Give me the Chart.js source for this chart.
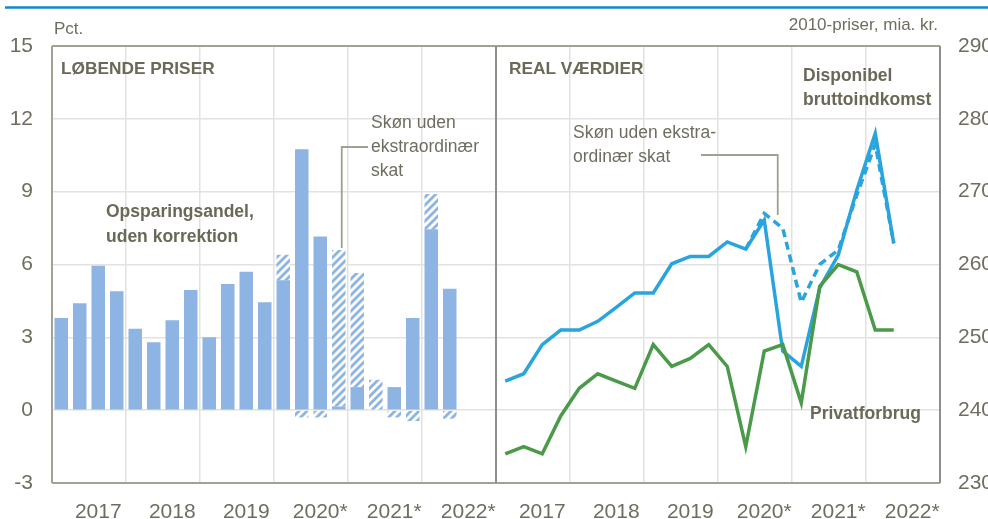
<!DOCTYPE html>
<html>
<head>
<meta charset="utf-8">
<script src="https://cdn.jsdelivr.net/npm/chart.js@4.4.1/dist/chart.umd.min.js"></script>
<style>
  html, body { margin: 0; padding: 0; background: #fff; }
  #wrap { position: relative; width: 988px; height: 519px; }
</style>
</head>
<body>
<div id="wrap"><canvas id="grafik" width="988" height="519"></canvas></div>
<script>
// Kvartaler 2017K1 - 2022K2 (hvert panel har plads til 6 hele år)
const kvartaler = ['2017K1','2017K2','2017K3','2017K4','2018K1','2018K2','2018K3','2018K4',
                   '2019K1','2019K2','2019K3','2019K4','2020K1','2020K2','2020K3','2020K4',
                   '2021K1','2021K2','2021K3','2021K4','2022K1','2022K2'];
const aar = ['2017', '2018', '2019', '2020*', '2021*', '2022*'];
const pctTicks = [-3, 0, 3, 6, 9, 12, 15];
const miaTicks = [230, 240, 250, 260, 270, 280, 290];

// Venstre panel: opsparingsandel (pct.)
const opsparing = [3.8, 4.4, 5.95, 4.9, 3.35, 2.8, 3.7, 4.95, 3.0, 5.2, 5.7, 4.45,
                   5.35, 10.75, 7.15, 0.15, 0.95, 0, 0.95, 3.8, 7.45, 5.0];
// skraveret del: skøn uden ekstraordinær skat (forskel)
const korrektion = [0, 0, 0, 0, 0, 0, 0, 0, 0, 0, 0, 0,
                    1.05, -0.3, -0.3, 6.45, 4.7, 1.25, -0.3, -0.45, 1.45, -0.35];

// Højre panel: realværdier, 2010-priser, mia. kr.
const indkomst = [244, 245, 249, 251, 251, 252.2, 254.1, 256.1, 256.1, 260.1, 261.1, 261.1,
                  263.1, 262.1, 266.1, 248.1, 246, 256.8, 261.3, 270.2, 278, 262.9];
const indkomstSkoen = [null, null, null, null, null, null, null, null, null, null, null, null,
                       null, 262.1, 267, 265, 254.8, 260, 262, 269.5, 276.5, 262.9];
const forbrug = [234, 235, 234, 239.2, 243, 245, 244, 243, 249, 246, 247.1, 249,
                 246, 235, 248.1, 249, 241, 257, 260, 259, 251, 251];

const PLADSER = 24; // kvartaler pr. panel
const tekstFarve = '#6f6d5f';
const fedFarve = '#6a6857';
const rammeFarve = '#a3a194';
const FONT = '"Liberation Sans", Arial, sans-serif';
const SMAL = '"Liberation Sans Narrow", "Liberation Sans", Arial, sans-serif';

// x-akse: venstre panel + højre panel
const labels = [];
for (let i = 0; i < PLADSER; i++) labels.push('V' + (kvartaler[i] || ('tom' + i)));
for (let i = 0; i < PLADSER; i++) labels.push('H' + (kvartaler[i] || ('tom' + i)));

function venstre(arr) {
    const ud = new Array(PLADSER * 2).fill(null);
    arr.forEach((v, i) => { ud[i] = v; });
    return ud;
}
function hoejre(arr) {
    const ud = new Array(PLADSER * 2).fill(null);
    arr.forEach((v, i) => { ud[PLADSER + i] = v; });
    return ud;
}

// skraveringsmønster (skrå bånd)
function lavSkravering() {
    const c = document.createElement('canvas');
    c.width = 8; c.height = 8;
    const g = c.getContext('2d');
    g.fillStyle = '#ffffff';
    g.fillRect(0, 0, 8, 8);
    g.fillStyle = '#8db4e2';
    g.beginPath();
    g.moveTo(0, 4); g.lineTo(4, 0); g.lineTo(8, 0); g.lineTo(0, 8);
    g.closePath();
    g.fill();
    g.beginPath();
    g.moveTo(8, 4); g.lineTo(8, 8); g.lineTo(4, 8);
    g.closePath();
    g.fill();
    return g.createPattern(c, 'repeat');
}

const tekster = {
    id: 'tekster',
    afterDatasetsDraw(chart) {
        const { ctx, chartArea: a, scales } = chart;
        const xs = scales.x;
        ctx.save();

        // ramme og midterstreg
        ctx.lineWidth = 2;
        ctx.strokeStyle = rammeFarve;
        ctx.beginPath();
        ctx.moveTo(a.left, a.top); ctx.lineTo(a.right, a.top);
        ctx.moveTo(a.left, a.top); ctx.lineTo(a.left, a.bottom);
        ctx.moveTo(a.left, a.bottom); ctx.lineTo(a.right, a.bottom);
        ctx.stroke();
        ctx.strokeStyle = '#8f8e88';
        const midt = (xs.getPixelForValue(PLADSER - 1) + xs.getPixelForValue(PLADSER)) / 2;
        ctx.beginPath();
        ctx.moveTo(midt, a.top); ctx.lineTo(midt, a.bottom);
        ctx.moveTo(a.right, a.top); ctx.lineTo(a.right, a.bottom);
        ctx.stroke();

        // forbindelseslinjer
        ctx.strokeStyle = '#a39f90';
        ctx.lineWidth = 1.8;
        const xv = xs.getPixelForValue(15) + 3;
        ctx.beginPath();
        ctx.moveTo(xv, 248); ctx.lineTo(xv, 147); ctx.lineTo(368, 147);
        ctx.stroke();
        const xh = xs.getPixelForValue(PLADSER + 15) - 5;
        ctx.beginPath();
        ctx.moveTo(701, 155); ctx.lineTo(xh, 155); ctx.lineTo(xh, 215);
        ctx.stroke();

        ctx.textBaseline = 'middle';
        ctx.textAlign = 'left';
        ctx.fillStyle = fedFarve;
        ctx.font = 'bold 17.3px ' + FONT;
        ctx.fillText('LØBENDE PRISER', 61, 69);
        ctx.fillText('REAL VÆRDIER', 509, 69);
        ctx.font = 'bold 17.5px ' + FONT;
        ctx.fillText('Opsparingsandel,', 106, 212);
        ctx.fillText('uden korrektion', 106, 237);
        ctx.fillText('Disponibel', 803, 76);
        ctx.fillText('bruttoindkomst', 803, 100);
        ctx.fillText('Privatforbrug', 810, 414);

        ctx.fillStyle = tekstFarve;
        ctx.font = '17.5px ' + FONT;
        ctx.fillText('Skøn uden', 371, 123);
        ctx.fillText('ekstraordinær', 371, 147);
        ctx.fillText('skat', 371, 171);
        ctx.fillText('Skøn uden ekstra-', 573, 133);
        ctx.fillText('ordinær skat', 573, 157);

        ctx.font = '17px ' + FONT;
        ctx.fillText('Pct.', 54, 29);
        ctx.textAlign = 'right';
        ctx.fillText('2010-priser, mia. kr.', 938, 25);

        // blå linje øverst
        ctx.strokeStyle = '#1188c9';
        ctx.lineWidth = 2.5;
        ctx.beginPath();
        ctx.moveTo(5, 7.5); ctx.lineTo(988, 7.5);
        ctx.stroke();
        ctx.restore();
    }
};

const ctx = document.getElementById('grafik').getContext('2d');
const kategoriBredde = (940 - 52) / (PLADSER * 2);

new Chart(ctx, {
    data: {
        labels: labels,
        datasets: [
            {
                type: 'bar',
                label: 'Opsparingsandel, uden korrektion',
                data: venstre(opsparing),
                backgroundColor: '#8db4e2',
                yAxisID: 'y',
                stack: 'opsp',
                barPercentage: 0.73,
                categoryPercentage: 1
            },
            {
                type: 'bar',
                label: 'Skøn uden ekstraordinær skat',
                data: venstre(korrektion),
                backgroundColor: lavSkravering(),
                yAxisID: 'y',
                stack: 'opsp',
                barPercentage: 0.73,
                categoryPercentage: 1
            },
            {
                type: 'line',
                label: 'Privatforbrug',
                data: hoejre(forbrug),
                borderColor: '#4b9a4a',
                borderWidth: 3.5,
                pointRadius: 0,
                tension: 0,
                yAxisID: 'y2'
            },
            {
                type: 'line',
                label: 'Skøn uden ekstraordinær skat',
                data: hoejre(indkomstSkoen),
                borderColor: '#29a4dd',
                borderWidth: 3.5,
                borderDash: [8, 5],
                pointRadius: 0,
                tension: 0,
                yAxisID: 'y2'
            },
            {
                type: 'line',
                label: 'Disponibel bruttoindkomst',
                data: hoejre(indkomst),
                borderColor: '#29a4dd',
                borderWidth: 3.5,
                pointRadius: 0,
                tension: 0,
                yAxisID: 'y2'
            }
        ]
    },
    options: {
        responsive: false,
        animation: false,
        layout: { padding: { top: 46, left: 0, right: 0, bottom: 0 } },
        plugins: {
            legend: { display: false },
            tooltip: { enabled: false }
        },
        scales: {
            x: {
                stacked: true,
                offset: true,
                grid: {
                    offset: true,
                    drawTicks: false,
                    lineWidth: 1.5,
                    color: (c) => (c.index % 4 === 0 && c.index % PLADSER !== 0) ? '#e2e2e2' : 'rgba(0,0,0,0)'
                },
                border: { display: false },
                afterFit: (s) => { s.height = 36; },
                ticks: {
                    autoSkip: false,
                    maxRotation: 0,
                    labelOffset: kategoriBredde,
                    padding: 17,
                    color: tekstFarve,
                    font: { family: SMAL, size: 21 },
                    callback: function (v, i) {
                        const lokal = i % PLADSER;
                        return lokal % 4 === 1 ? aar[Math.floor(lokal / 4)] : '';
                    }
                }
            },
            y: {
                position: 'left',
                stacked: true,
                min: pctTicks[0],
                max: pctTicks[pctTicks.length - 1],
                afterFit: (s) => { s.width = 52; },
                afterBuildTicks: (s) => { s.ticks = pctTicks.map(v => ({ value: v })); },
                grid: { drawTicks: false, color: '#e2e2e2', lineWidth: 1.5 },
                border: { display: false },
                ticks: {
                    padding: 19,
                    color: tekstFarve,
                    font: { family: SMAL, size: 21 }
                }
            },
            y2: {
                position: 'right',
                min: miaTicks[0],
                max: miaTicks[miaTicks.length - 1],
                afterFit: (s) => { s.width = 48; },
                afterBuildTicks: (s) => { s.ticks = miaTicks.map(v => ({ value: v })); },
                grid: { display: false, drawTicks: false },
                border: { display: false },
                ticks: {
                    padding: 18,
                    color: tekstFarve,
                    font: { family: SMAL, size: 21 }
                }
            }
        }
    },
    plugins: [tekster]
});
</script>
</body>
</html>
